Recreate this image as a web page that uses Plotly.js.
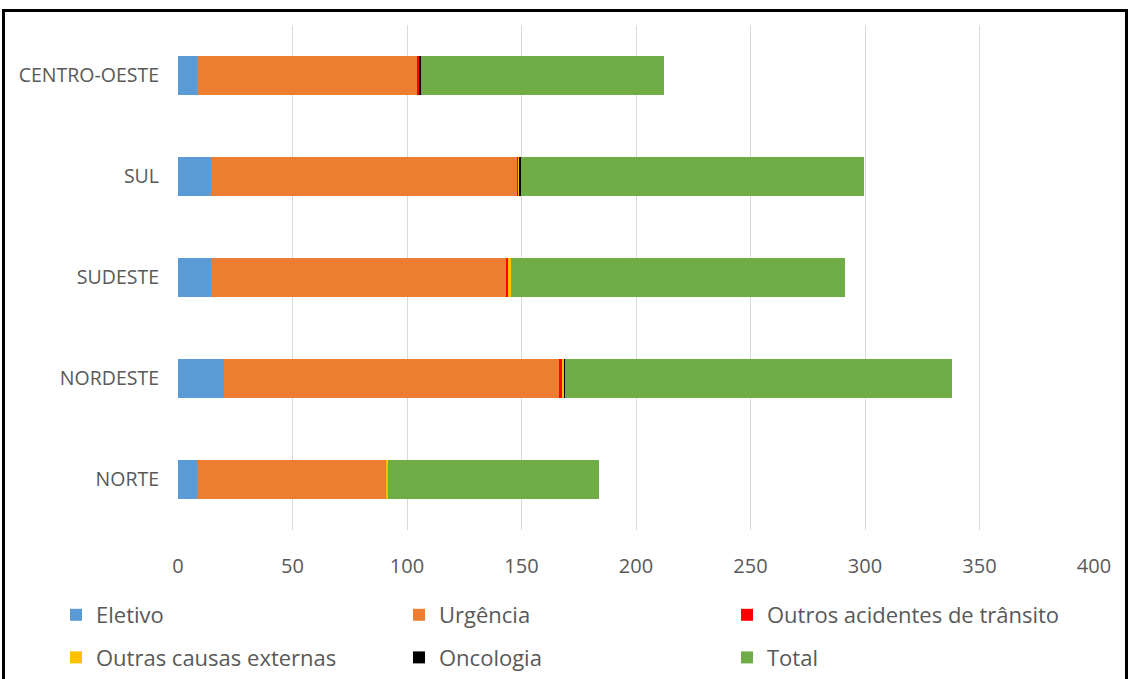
<!DOCTYPE html>
<html>
<head>
<meta charset="utf-8">
<script src="https://cdn.plot.ly/plotly-3.0.1.min.js"></script>
<style>
html,body{margin:0;padding:0;background:#fff;overflow:hidden;}
#chart{width:1128px;height:679px;}
#frame{position:absolute;left:2px;top:9px;width:1120px;height:700px;border:3px solid #000;pointer-events:none;}
</style>
</head>
<body>
<div id="chart"></div>
<div id="frame"></div>
<script>
const regions = ["NORTE", "NORDESTE", "SUDESTE", "SUL", "CENTRO-OESTE"];
const eletivo = [8.3, 20.1, 14.4, 14.4, 8.3];
const urgencia = [82.5, 146.3, 128.8, 133.8, 96.2];
const outrosAcidentes = [0.2, 1.3, 0.9, 0.4, 0.7];
const outrasCausas = [0.8, 1.0, 1.2, 0.1, 0.0];
const oncologia = [0.1, 0.1, 0.2, 1.0, 0.9];
const total = [91.9, 169.0, 145.8, 149.8, 106.1];
const xTicks = [0, 50, 100, 150, 200, 250, 300, 350, 400];

// [name, values, colour, legend column]
const series = [
  ["Eletivo", eletivo, "#5B9BD5", "legend"],
  ["Urgência", urgencia, "#ED7D31", "legend2"],
  ["Outros acidentes de trânsito", outrosAcidentes, "#FF0000", "legend3"],
  ["Outras causas externas", outrasCausas, "#FFC000", "legend"],
  ["Oncologia", oncologia, "#000000", "legend2"],
  ["Total", total, "#70AD47", "legend3"]
];

const data = series.map(([name, vals, color, lg]) => ({
  type: "bar",
  orientation: "h",
  name: name,
  legend: lg,
  legendgroup: name,
  y: regions,
  x: vals,
  marker: {color: color, line: {width: 0}},
  hoverinfo: "x+name"
}));

const font = "'Open Sans', sans-serif";
const legendFont = {family: font, size: 22, color: "#595959"};
function mkLegend(xpx) {
  return {
    orientation: "v", traceorder: "grouped",
    xref: "container", yref: "container",
    x: xpx / 1128, xanchor: "left",
    y: 1 - 594 / 679, yanchor: "top",
    tracegroupgap: 11, itemwidth: 30,
    bgcolor: "rgba(0,0,0,0)", borderwidth: 0,
    font: legendFont
  };
}

const layout = {
  width: 1128, height: 679,
  barmode: "stack",
  bargap: 0.62,
  paper_bgcolor: "#fff", plot_bgcolor: "#fff",
  margin: {l: 178, r: 34, t: 25, b: 149, autoexpand: false},
  font: {family: font, color: "#595959", size: 17},
  xaxis: {
    range: [0, 400], tickvals: xTicks, ticktext: xTicks.map(String),
    showgrid: true, gridcolor: "#D9D9D9", gridwidth: 1,
    zeroline: false, showline: false, ticks: "",
    ticklabelstandoff: 22,
    tickfont: {size: 20, color: "#595959"}, fixedrange: true
  },
  yaxis: {
    categoryorder: "array", categoryarray: regions,
    showgrid: false, zeroline: false, showline: false, ticks: "",
    ticklabelstandoff: 18,
    tickfont: {size: 19.5, color: "#595959"}, fixedrange: true
  },
  legend: mkLegend(56),
  legend2: mkLegend(399),
  legend3: mkLegend(727),
  showlegend: true
};

Plotly.newPlot("chart", data, layout, {displayModeBar: false, staticPlot: true});
</script>
</body>
</html>
